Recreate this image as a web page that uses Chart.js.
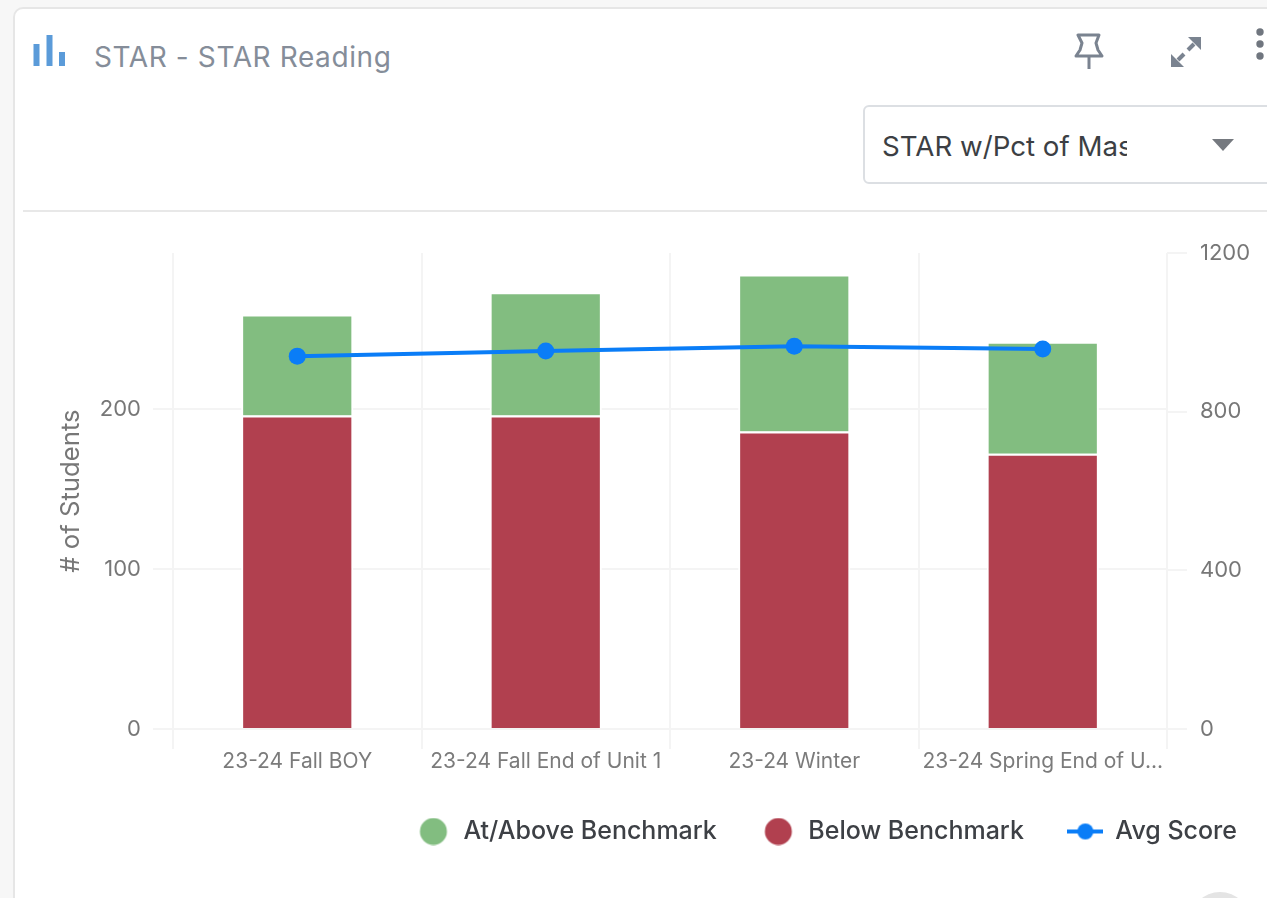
<!DOCTYPE html>
<html>
<head>
<meta charset="utf-8">
<title>STAR - STAR Reading</title>
<script src="https://cdn.jsdelivr.net/npm/chart.js@4"></script>
<style>
    html, body { margin: 0; padding: 0; width: 1267px; height: 898px; overflow: hidden; background: #f7f7f7; font-family: Inter, sans-serif; }
    #card { position: absolute; left: 13px; top: 7px; width: 1270px; height: 910px; background: #fff; border: 2px solid #e6e6e6; border-radius: 10px; box-sizing: border-box; }
    #title { position: absolute; left: 94px; top: 38px; font-size: 28px; line-height: 38px; color: #858d99; letter-spacing: 0.6px; }
    #barIcon, #pin, #expand, #dots { position: absolute; }
    #barIcon { left: 33px; top: 35px; }
    #pin { left: 1074px; top: 33px; }
    #expand { left: 1168px; top: 34px; }
    #dots { left: 1253px; top: 27px; }
    #picker { position: absolute; left: 863px; top: 105px; width: 410px; height: 79px; border: 2px solid #dcdfe3; border-radius: 6px; box-sizing: border-box; background: #fff; }
    #pickerText { position: absolute; left: 17px; top: 21px; width: 245px; overflow: hidden; white-space: nowrap; font-size: 27.7px; line-height: 36px; color: #3c3f44; }
    #caret { position: absolute; left: 347px; top: 32px; width: 0; height: 0; border-left: 11px solid transparent; border-right: 11px solid transparent; border-top: 12px solid #75797f; }
    #rule { position: absolute; left: 23px; top: 210px; width: 1244px; height: 2px; background: #e8e8e8; }
    #bump { position: absolute; left: 1190px; top: 892px; width: 60px; height: 60px; border-radius: 50%; background: #e4e4e4; }
    #chartBox { position: absolute; left: 24px; top: 214px; width: 1257px; height: 684px; }
</style>
</head>
<body>
<div id="card"></div>
<svg id="barIcon" width="34" height="32" viewBox="0 0 34 32"><g fill="#5b9bd9"><rect x="0.5" y="9" width="6" height="22"/><rect x="13.5" y="0" width="6" height="31"/><rect x="26" y="17" width="6" height="14"/></g></svg>
<div id="title">STAR - STAR Reading</div>
<svg id="pin" width="30" height="38" viewBox="0 0 30 38"><path d="M4 2h21l-3 8 2 7 4 6H2l4-6 2-7z" fill="none" stroke="#7a8390" stroke-width="3" stroke-linejoin="round"/><path d="M15 23v13" stroke="#7a8390" stroke-width="3"/></svg>
<svg id="expand" width="36" height="36" viewBox="0 0 36 36"><g fill="#7a8390"><path d="M33 3v13L20 3z"/><path d="M3 33V20l13 13z"/></g><g stroke="#7a8390" stroke-width="4"><path d="M26 10l-6 6"/><path d="M10 26l6-6"/></g></svg>
<svg id="dots" width="14" height="36" viewBox="0 0 14 36"><g fill="#70767f"><circle cx="7" cy="5" r="3.7"/><circle cx="7" cy="17" r="3.7"/><circle cx="7" cy="29" r="3.7"/></g></svg>
<div id="picker"><div id="pickerText">STAR w/Pct of Master</div><div id="caret"></div></div>
<div id="rule"></div>
<div id="bump"></div>
<div id="chartBox"><canvas id="myChart" width="1257" height="684"></canvas></div>
<script>
const categories = ['23-24 Fall BOY', '23-24 Fall End of Unit 1', '23-24 Winter', '23-24 Spring End of U...'];
const belowBenchmark = [196, 196, 186, 172];
const atAboveBenchmark = [63, 77, 98, 70];
const avgScore = [940, 953, 965, 958];
const studentTicks = [0, 100, 200];
const scoreTicks = [0, 400, 800, 1200];

const GREEN = '#82bd80';
const RED = '#b1404f';
const BLUE = '#0a7df7';
const GRID = '#f4f4f4';
const FONT = 'Inter';

// legend icons, all the same box so the labels line up
function legendIcon(color, withLine) {
    const c = document.createElement('canvas');
    c.width = 36;
    c.height = 28;
    const g = c.getContext('2d');
    if (withLine) {
        g.strokeStyle = color;
        g.lineWidth = 4;
        g.beginPath();
        g.moveTo(0, 14);
        g.lineTo(36, 14);
        g.stroke();
    }
    g.fillStyle = color;
    g.beginPath();
    g.arc(18, 14, withLine ? 8 : 13.5, 0, Math.PI * 2);
    g.fill();
    return c;
}

new Chart(document.getElementById('myChart').getContext('2d'), {
    data: {
        labels: categories,
        datasets: [
            { type: 'bar', label: 'Below Benchmark', data: belowBenchmark, backgroundColor: RED, borderColor: '#fff', borderWidth: 2, yAxisID: 'y', stack: 'a', order: 2 },
            { type: 'bar', label: 'At/Above Benchmark', data: atAboveBenchmark, backgroundColor: GREEN, borderColor: '#fff', borderWidth: 2, yAxisID: 'y', stack: 'a', order: 2 },
            { type: 'line', label: 'Avg Score', data: avgScore, borderColor: BLUE, backgroundColor: BLUE, borderWidth: 4, pointRadius: 8.5, pointBackgroundColor: BLUE, pointBorderWidth: 0, tension: 0, yAxisID: 'y1', order: 1 }
        ]
    },
    options: {
        responsive: false,
        animation: false,
        layout: { padding: { left: 32, right: 0, top: 39, bottom: 44 } },
        datasets: { bar: { categoryPercentage: 0.5, barPercentage: 0.903 } },
        plugins: {
            tooltip: { enabled: false },
            legend: {
                position: 'bottom',
                align: 'end',
                labels: {
                    usePointStyle: true,
                    pointStyleWidth: 35,
                    padding: 44,
                    color: '#3d4045',
                    font: { family: FONT, size: 25, weight: '500' },
                    generateLabels() {
                        return [
                            { text: 'At/Above Benchmark', pointStyle: legendIcon(GREEN, false), lineWidth: 0, fontColor: '#3d4045' },
                            { text: 'Below Benchmark', pointStyle: legendIcon(RED, false), lineWidth: 0, fontColor: '#3d4045' },
                            { text: 'Avg Score', pointStyle: legendIcon(BLUE, true), lineWidth: 0, fontColor: '#3d4045' }
                        ];
                    }
                }
            }
        },
        scales: {
            x: {
                stacked: true,
                offset: true,
                afterFit(scale) { scale.height = 46; },
                grid: { color: GRID, lineWidth: 2, tickLength: 20 },
                border: { display: false },
                ticks: { color: '#7b7b7b', font: { family: FONT, size: 21 }, maxRotation: 0, autoSkip: false, padding: 0 }
            },
            y: {
                stacked: true,
                min: 0,
                max: 297.5,
                afterBuildTicks(scale) { scale.ticks = studentTicks.map(v => ({ value: v })); },
                afterFit(scale) { scale.width = 117; },
                grid: { color: GRID, lineWidth: 2, tickLength: 20 },
                border: { display: false },
                title: { display: true, text: '# of Students', color: '#777', font: { family: FONT, size: 25.7 }, padding: 0 },
                ticks: { color: '#777', font: { family: FONT, size: 22 }, padding: 12, callback: v => String(v) }
            },
            y1: {
                position: 'right',
                min: 0,
                max: 1200,
                afterBuildTicks(scale) { scale.ticks = scoreTicks.map(v => ({ value: v })); },
                afterFit(scale) { scale.width = 114; },
                grid: { drawOnChartArea: false, color: GRID, lineWidth: 2, tickLength: 20 },
                border: { display: false },
                ticks: { color: '#777', font: { family: FONT, size: 22 }, padding: 13, callback: v => String(v) }
            }
        }
    }
});
</script>
</body>
</html>
